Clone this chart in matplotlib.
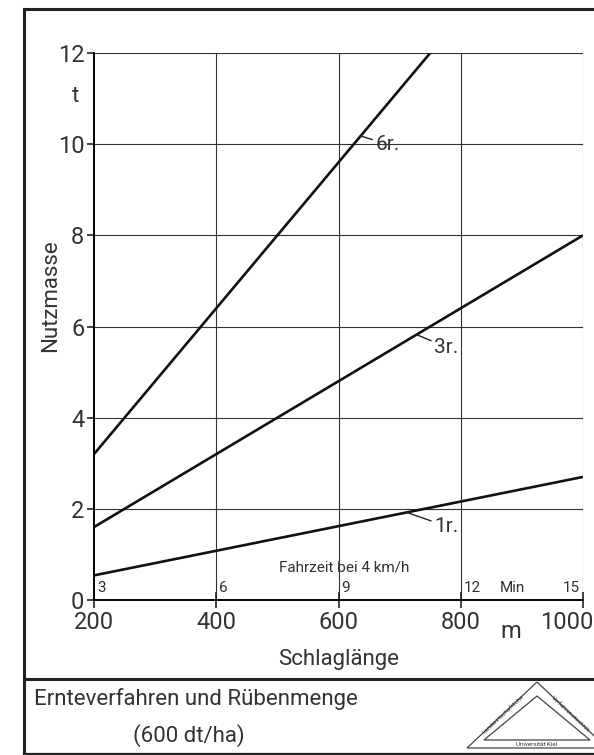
import numpy as np
from matplotlib import pyplot as plt
from matplotlib import transforms
from matplotlib.lines import Line2D
from matplotlib.patches import Polygon

# Schlaglänge (m) und Nutzmasse (t) je Verfahren
laenge = [200, 400, 600, 800, 1000]
reihig_1 = [0.54, 1.08, 1.62, 2.16, 2.70]
reihig_3 = [1.60, 3.20, 4.80, 6.40, 8.00]
reihig_6 = [3.20, 6.40, 9.60, 12.80, 16.00]
y_ticks = [0, 2, 4, 6, 8, 10, 12]
fahrzeit = ["3", "6", "9", "12", "15"]

plt.rcParams['font.family'] = ['Roboto', 'DejaVu Sans']
W, H = 594, 755
fig = plt.figure(figsize=(W / 100, H / 100), dpi=100)
TXT = "#333333"

def fx(px):
    return px / W

def fy(py):
    return 1 - py / H

ax = fig.add_axes([fx(94), fy(600), fx(583) - fx(94), fy(53) - fy(600)])
ax.set_xlim(200, 1000)
ax.set_ylim(0, 12)

# Gitter
for v in laenge[1:]:
    ax.axvline(v, color="#333333", lw=0.8, zorder=1)
for v in y_ticks[1:]:
    ax.axhline(v, color="#333333", lw=0.8, zorder=1)

# Kurven
for werte in (reihig_1, reihig_3, reihig_6):
    ax.plot(laenge, werte, color="#111111", lw=1.9, solid_capstyle="butt", zorder=3)

for s in ("top", "right"):
    ax.spines[s].set_visible(False)
ax.spines["left"].set_linewidth(1.4)
ax.spines["bottom"].set_linewidth(1.4)

ax.set_yticks(y_ticks)
ax.set_xticks(laenge)
ax.tick_params(axis="y", direction="out", length=5, width=1.2, labelsize=17, pad=2,
               colors="#222222", labelcolor=TXT)
ax.tick_params(axis="x", direction="inout", length=12, width=1.2, labelsize=17, pad=2,
               colors="#222222", labelcolor=TXT)

# letzte Beschriftung (1000) an den Bildrand schieben
fig.canvas.draw()
letzte = ax.get_xticklabels()[-1]
letzte.set_ha("right")
letzte.set_transform(letzte.get_transform() +
                     transforms.ScaledTranslation(0.10, 0, fig.dpi_scale_trans))

fig.text(fx(51), fy(296), "Nutzmasse", fontsize=16, color=TXT, rotation=90,
         ha="center", va="center")
fig.text(fx(76), fy(97), "t", fontsize=16, color=TXT, ha="center", va="center")
fig.text(fx(339), fy(659), "Schlaglänge", fontsize=16, color=TXT, ha="center", va="center")
fig.text(fx(511), fy(632), "m", fontsize=17, color=TXT, ha="center", va="center")

# Fahrzeit-Skala
for x, lab in zip(laenge, fahrzeit):
    if x < 1000:
        ax.text(x + 5, 0.1, lab, fontsize=11, color=TXT, ha="left", va="bottom")
    else:
        ax.text(x - 5, 0.1, lab, fontsize=11, color=TXT, ha="right", va="bottom")
ax.text(885, 0.1, "Min", fontsize=11, color=TXT, ha="center", va="bottom")
ax.text(610, 0.55, "Fahrzeit bei 4 km/h", fontsize=11, color=TXT, ha="center", va="bottom")

# Beschriftungen der Kurven
lbl = dict(fontsize=15, color=TXT, va="center", ha="left",
           arrowprops=dict(arrowstyle="-", color="#222222", lw=1.0, shrinkA=0, shrinkB=0))
ax.annotate("6r.", xy=(636, 10.18), xytext=(660, 10.0), **lbl)
ax.annotate("3r.", xy=(728, 5.82), xytext=(756, 5.55), **lbl)
ax.annotate("1r.", xy=(712, 1.92), xytext=(756, 1.62), **lbl)

# Rahmen
fig.add_artist(Line2D([fx(24), fx(24)], [fy(9), fy(754)], color="#222222", lw=2.2))
fig.add_artist(Line2D([fx(24), 1.0], [fy(9), fy(9)], color="#222222", lw=2.2))
fig.add_artist(Line2D([fx(24), 1.0], [fy(679), fy(679)], color="#222222", lw=2.2))
fig.add_artist(Line2D([fx(24), 1.0], [fy(754), fy(754)], color="#222222", lw=1.6))

fig.text(fx(34), fy(699), "Ernteverfahren und Rübenmenge", fontsize=16, color=TXT,
         ha="left", va="center")
fig.text(fx(133), fy(736), "(600 dt/ha)", fontsize=16, color=TXT,
         ha="left", va="center")

# Logo
aussen = [(fx(537), fy(682)), (fx(467), fy(748)), (fx(607), fy(748))]
innen = [(fx(537), fy(696)), (fx(484), fy(740)), (fx(590), fy(740))]
fig.add_artist(Polygon(aussen, closed=True, fill=False, ec="#444444", lw=0.9))
fig.add_artist(Polygon(innen, closed=True, fill=False, ec="#444444", lw=0.9))
fig.text(fx(503), fy(714), "Landwirtschaftliche", fontsize=4.5, rotation=43,
         ha="center", va="center", color="#333333")
fig.text(fx(570), fy(714), "Verfahrenstechnik", fontsize=4.5, rotation=-43,
         ha="center", va="center", color="#333333")
fig.text(fx(537), fy(744), "Universität Kiel", fontsize=4.5,
         ha="center", va="center", color="#333333")

fig.savefig("out.png", dpi=100)
